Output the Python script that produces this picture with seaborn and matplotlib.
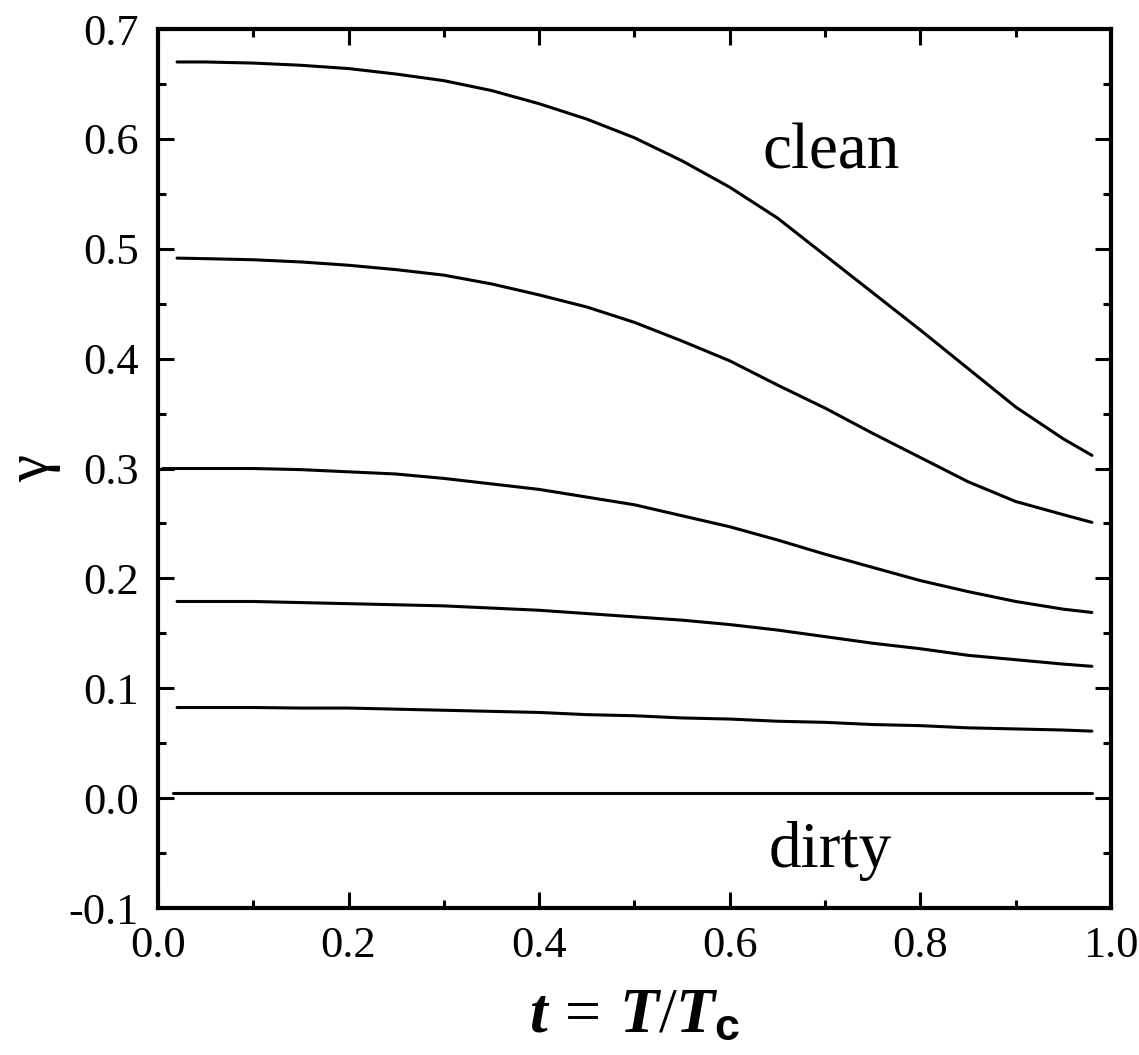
import numpy as np
import pandas as pd
import matplotlib
matplotlib.use("Agg")
import matplotlib.pyplot as plt
from matplotlib.ticker import MultipleLocator
import seaborn as sns

# ---- data ----
t_grid = [0.02, 0.05, 0.10, 0.15, 0.20, 0.25, 0.30, 0.35, 0.40, 0.45, 0.50,
          0.55, 0.60, 0.65, 0.70, 0.75, 0.80, 0.85, 0.90, 0.95, 0.98]
t_grid3 = [0.005, 0.05, 0.10, 0.15, 0.20, 0.25, 0.30, 0.35, 0.40, 0.45, 0.50,
           0.55, 0.60, 0.65, 0.70, 0.75, 0.80, 0.85, 0.90, 0.95, 0.98]
t_flat = [0.016, 0.98]

gamma_1 = [0.670, 0.670, 0.669, 0.667, 0.664, 0.659, 0.653, 0.644, 0.632, 0.618, 0.601,
           0.580, 0.556, 0.528, 0.494, 0.460, 0.426, 0.391, 0.356, 0.327, 0.312]
gamma_2 = [0.4915, 0.491, 0.490, 0.488, 0.485, 0.481, 0.476, 0.468, 0.458, 0.447, 0.433,
           0.416, 0.398, 0.376, 0.355, 0.332, 0.310, 0.288, 0.270, 0.258, 0.251]
gamma_3 = [0.300, 0.300, 0.300, 0.299, 0.297, 0.295, 0.291, 0.286, 0.281, 0.274, 0.267,
           0.257, 0.247, 0.235, 0.222, 0.210, 0.198, 0.188, 0.179, 0.172, 0.169]
gamma_4 = [0.179, 0.179, 0.179, 0.178, 0.177, 0.176, 0.175, 0.173, 0.171, 0.168, 0.165,
           0.162, 0.158, 0.153, 0.147, 0.141, 0.136, 0.130, 0.126, 0.122, 0.120]
gamma_5 = [0.0825, 0.0825, 0.0825, 0.082, 0.082, 0.081, 0.080, 0.079, 0.078, 0.076, 0.075,
           0.073, 0.072, 0.070, 0.069, 0.067, 0.066, 0.064, 0.063, 0.062, 0.061]
gamma_6 = [0.005, 0.005]

x_ticks = [0.0, 0.2, 0.4, 0.6, 0.8, 1.0]
y_ticks = [-0.1, 0.0, 0.1, 0.2, 0.3, 0.4, 0.5, 0.6, 0.7]
label_clean = "clean"
label_dirty = "dirty"

frames = []
for name, tt, gg in [("c1", t_grid, gamma_1), ("c2", t_grid, gamma_2),
                     ("c3", t_grid3, gamma_3), ("c4", t_grid, gamma_4),
                     ("c5", t_grid, gamma_5), ("c6", t_flat, gamma_6)]:
    frames.append(pd.DataFrame({"t": tt, "gamma": gg, "curve": name}))
df = pd.concat(frames, ignore_index=True)

# ---- style ----
sns.set_theme(style="ticks")
plt.rcParams["font.family"] = ["Liberation Serif", "DejaVu Serif"]
plt.rcParams["mathtext.fontset"] = "custom"
plt.rcParams["mathtext.it"] = "Liberation Serif:italic:bold"
plt.rcParams["mathtext.rm"] = "Liberation Serif"
plt.rcParams["mathtext.sf"] = "Liberation Sans:bold"
plt.rcParams["text.color"] = "black"
plt.rcParams["axes.labelcolor"] = "black"
plt.rcParams["xtick.color"] = "black"
plt.rcParams["ytick.color"] = "black"

TICK_FS = 32

fig = plt.figure(figsize=(11.39, 10.55), dpi=100)
ax = fig.add_axes([0.1387, 0.1393, 0.9754 - 0.1387, 0.9725 - 0.1393])

sns.lineplot(data=df, x="t", y="gamma", hue="curve",
             palette=["black"] * 6, legend=False, linewidth=2.2, ax=ax,
             sort=False, estimator=None)

ax.set_xlim(0.0, 1.0)
ax.set_ylim(-0.1, 0.7)
ax.set_xticks(x_ticks)
ax.set_yticks(y_ticks)
ax.set_xticklabels([f"{v:.1f}" for v in x_ticks], fontsize=TICK_FS, color="black")
ax.set_yticklabels([f"{v:.1f}" for v in y_ticks], fontsize=TICK_FS, color="black")
ax.xaxis.set_minor_locator(MultipleLocator(0.1))
ax.yaxis.set_minor_locator(MultipleLocator(0.05))

ax.tick_params(which="both", direction="in", top=True, right=True,
               colors="black", width=2.2)
ax.tick_params(which="major", length=11.5)
ax.tick_params(which="minor", length=6)
ax.tick_params(axis="y", which="major", pad=14)
ax.tick_params(axis="x", which="major", pad=13)
for s in ax.spines.values():
    s.set_linewidth(3)
    s.set_color("black")

ax.set_xlabel(r"$t\,=\,T/T_{\mathsf{c}}$", fontsize=46, labelpad=16, color="black")
ax.set_ylabel("γ", fontsize=44, labelpad=5, color="black")

ax.text(0.706, 0.573, label_clean, fontsize=47, ha="center", va="baseline", color="black")
ax.text(0.705, -0.063, label_dirty, fontsize=47, ha="center", va="baseline", color="black")

fig.savefig("out.png", dpi=100, facecolor="white")
